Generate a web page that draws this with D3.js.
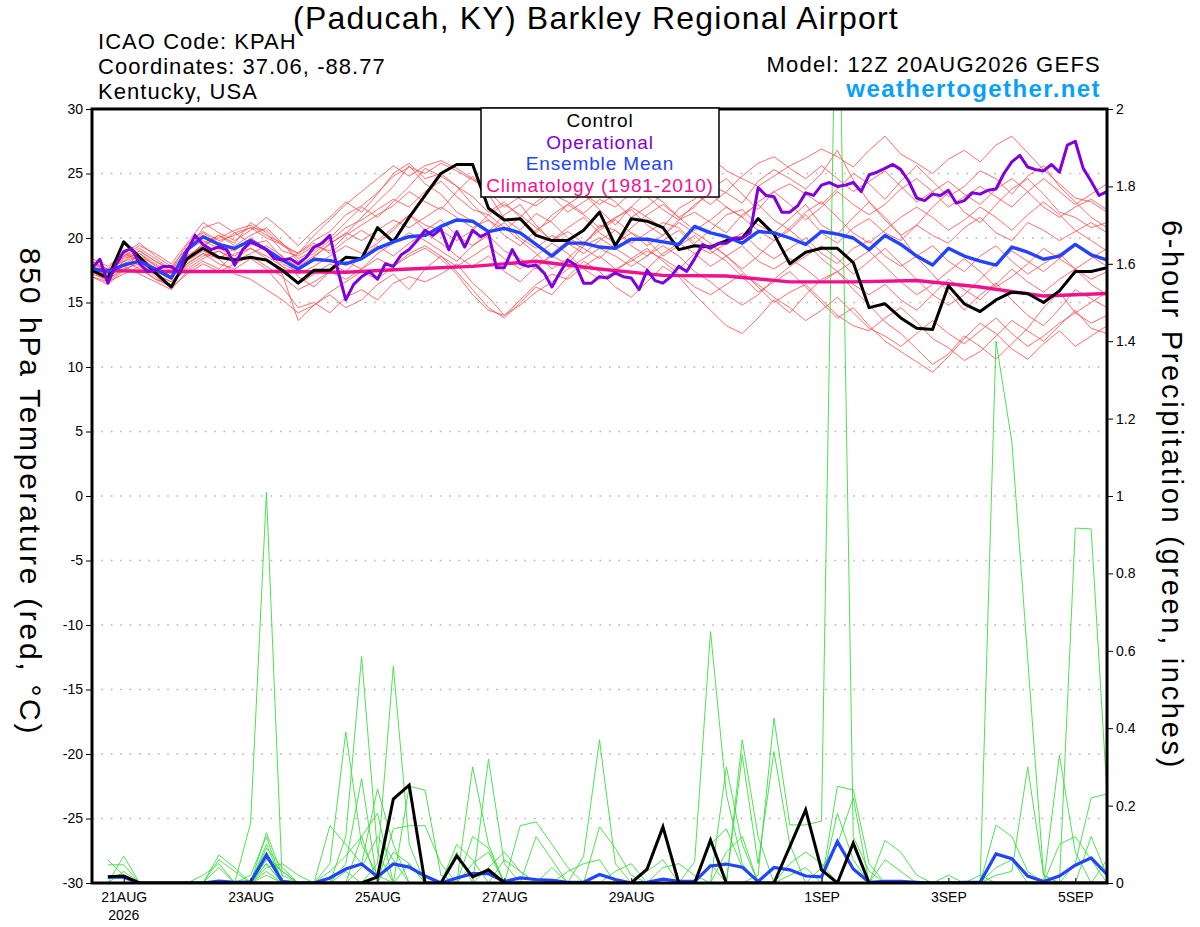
<!DOCTYPE html>
<html>
<head>
<meta charset="utf-8">
<script src="https://cdn.jsdelivr.net/npm/d3@7"></script>
<style>
  body { margin: 0; background: #fff; }
  svg { font-family: "Liberation Sans", Arial, Helvetica, sans-serif; }
</style>
</head>
<body>
<svg id="chart" width="1200" height="927"></svg>
<script>
/* DATA */
const runStart = Date.UTC(2026, 7, 20, 12);   // 12Z 20AUG2026
const runEnd = Date.UTC(2026, 8, 5, 12);
const HOUR = 3600 * 1000;

const xTickDays = [Date.UTC(2026,7,21), Date.UTC(2026,7,23), Date.UTC(2026,7,25), Date.UTC(2026,7,27),
                   Date.UTC(2026,7,29), Date.UTC(2026,8,1), Date.UTC(2026,8,3), Date.UTC(2026,8,5)];
const xTickLabels = ["21AUG", "23AUG", "25AUG", "27AUG", "29AUG", "1SEP", "3SEP", "5SEP"];
const tempTicks = [-30, -25, -20, -15, -10, -5, 0, 5, 10, 15, 20, 25, 30];
const precipTicks = [0, 0.2, 0.4, 0.6, 0.8, 1, 1.2, 1.4, 1.6, 1.8, 2];
const precipTickLabels = ["0", "0.2", "0.4", "0.6", "0.8", "1", "1.2", "1.4", "1.6", "1.8", "2"];

// 6-hourly 850 hPa temperature, control run
const tempControl = [17.5,16.9,19.7,18.5,17.3,16.2,18.4,19.2,18.5,18.3,18.5,18.3,17.5,
  16.5,17.5,17.5,18.5,18.4,20.8,19.7,21.6,23.3,25.0,25.7,25.7,22.3,
  21.4,21.5,20.2,19.8,19.8,20.6,22.0,19.4,21.5,21.3,20.8,19.1,19.4,
  19.3,19.8,20.0,21.5,20.3,18.0,18.9,19.2,19.2,18.1,14.6,14.9,13.8,
  13.0,12.9,16.3,14.9,14.3,15.2,15.8,15.7,15.0,15.9,17.4,17.4,17.7];

// 6-hourly ensemble mean
const tempMean = [17.65,17.4,17.9,18.2,17.6,16.9,19.1,20.1,19.5,19.2,19.8,19.1,18.3,
  17.6,18.35,18.25,18.0,18.4,19.2,19.7,20.1,20.2,20.9,21.4,21.3,20.5,
  20.75,20.4,19.5,18.6,19.6,19.6,19.3,19.2,19.9,19.9,19.7,19.5,20.9,
  20.4,20.1,19.6,20.5,20.4,20.0,19.5,20.5,20.3,20.0,19.1,20.2,19.5,
  18.6,17.9,19.2,18.6,18.2,17.9,19.3,18.9,18.35,18.6,19.5,18.7,18.3];

// 3-hourly operational run
const tempOper = [17.65,18.35,16.5,17.9,18.95,19.2,18.0,17.4,17.5,17.8,17.8,17.3,19.0,20.2,19.5,19.1,
  19.3,19.1,17.9,19.1,19.7,19.4,19.1,18.4,18.3,18.4,18.0,18.5,19.3,19.6,20.2,17.5,
  15.2,16.4,17.0,17.4,16.8,18.0,17.8,18.7,19.1,19.8,20.6,20.2,20.7,19.1,20.5,19.3,
  20.6,20.1,20.4,17.7,17.7,19.1,18.0,17.8,17.9,17.3,16.2,17.3,18.3,17.9,16.5,16.5,
  17.0,16.9,17.3,17.0,16.9,16.0,17.5,16.7,16.5,17.0,17.8,17.4,18.4,19.5,19.2,19.6,
  19.6,20.0,20.0,20.4,23.9,23.3,23.2,22.0,22.0,22.5,23.5,23.3,24.1,24.3,24.0,24.1,
  24.3,23.6,24.9,25.1,25.4,25.7,25.3,24.4,23.1,22.9,23.4,23.3,23.7,22.7,22.9,23.5,
  23.4,23.7,23.8,25.0,25.9,26.4,25.5,25.3,25.2,25.7,25.1,27.2,27.5,25.4,24.4,23.3,
  23.6];

// daily climatology (1981-2010), 12Z each day
const tempClim = [17.5,17.4,17.4,17.4,17.35,17.6,17.8,18.2,17.6,17.1,17.05,16.6,16.6,16.7,16.2,15.5,15.7];

// 6-hourly ensemble members
const tempMembers = [
  [17.8,17.2,18.5,19.0,18.2,17.6,19.5,20.5,19.8,20.2,20.8,20.0,19.5,18.8,19.8,20.5,21.8,22.5,23.5,24.8,25.5,25.0,
   25.8,25.2,24.5,23.8,24.2,23.0,22.5,23.4,22.8,21.9,23.0,22.4,23.5,24.8,24.0,24.6,25.4,26.3,25.2,24.6,24.0,24.8,
   25.6,26.2,26.9,26.3,25.5,26.8,27.9,26.5,25.8,25.0,26.1,26.8,25.9,27.2,27.9,26.6,25.3,24.2,23.1,22.8,22.0],
  [17.5,16.8,18.0,18.6,17.9,17.0,18.8,20.8,21.2,20.4,19.6,19.2,18.0,17.4,18.5,19.6,20.3,21.6,22.8,24.0,25.6,24.2,
   23.4,22.0,21.3,20.5,21.8,22.6,21.0,19.8,20.5,19.6,20.8,21.5,22.4,21.6,20.8,22.3,23.0,24.1,23.5,22.7,24.4,25.3,
   24.6,23.8,25.0,26.8,24.5,22.8,21.6,20.2,18.5,17.2,15.8,14.4,15.6,16.5,15.2,14.0,13.2,14.5,16.0,15.3,14.6],
  [18.2,17.6,19.0,18.2,17.4,16.8,18.4,19.6,20.2,19.6,21.2,20.4,19.0,18.6,19.4,19.0,20.2,21.0,21.8,22.5,23.6,22.8,
   22.2,23.6,24.8,23.4,21.5,20.6,21.9,21.2,20.0,19.4,21.0,20.6,19.6,20.4,21.2,20.8,19.6,20.6,21.8,22.2,21.0,20.4,
   21.5,22.6,21.0,20.3,21.6,22.8,21.4,20.2,21.0,22.4,23.5,22.0,21.2,22.6,23.8,24.6,23.4,22.0,21.6,20.8,21.2],
  [17.0,16.4,17.5,18.2,17.0,16.2,18.0,18.8,18.0,17.6,18.4,17.6,16.2,14.6,15.0,14.2,15.4,16.0,15.2,16.5,17.0,16.6,
   17.2,18.0,16.5,15.4,14.0,15.2,16.4,17.2,16.8,17.8,18.6,17.6,18.2,19.0,18.4,17.6,18.8,19.5,18.6,17.4,16.2,15.0,
   15.8,16.4,15.2,14.0,13.2,12.8,13.8,14.6,13.5,12.2,11.5,10.5,11.2,12.4,13.6,12.8,12.0,13.2,14.4,13.0,12.6],
  [17.6,17.0,17.8,17.2,16.6,16.0,17.4,18.2,17.6,18.8,19.2,18.4,17.2,13.6,14.8,15.6,14.6,15.2,16.4,17.2,16.0,17.6,
   18.6,17.4,16.0,14.6,13.8,15.0,16.2,15.6,17.0,18.2,17.4,16.2,15.4,16.6,17.8,17.0,15.6,14.4,13.2,12.6,13.8,15.2,
   14.2,15.6,16.8,17.4,16.0,14.8,13.5,12.6,11.4,10.2,11.0,12.4,11.6,10.6,11.8,13.0,14.6,15.8,14.2,13.4,14.0],
  [18.0,17.4,18.6,19.2,18.4,17.6,19.0,19.8,19.2,18.6,19.5,19.8,18.5,17.8,18.6,19.5,20.4,19.8,20.6,21.4,20.8,21.6,
   22.4,21.6,20.8,21.4,20.2,19.4,20.6,21.4,22.6,21.8,20.8,21.6,22.2,21.0,20.2,21.4,22.0,21.2,20.4,21.8,22.6,21.4,
   20.6,21.8,20.4,19.6,20.8,21.5,20.4,19.8,21.0,20.2,19.6,20.8,21.6,20.4,19.8,21.2,20.6,19.8,20.5,21.2,20.4],
  [17.4,16.6,17.6,18.8,18.0,17.2,18.6,19.4,20.0,20.6,21.0,20.2,19.6,18.4,19.0,20.0,21.2,22.4,21.6,22.8,24.0,25.4,
   24.8,24.0,23.2,22.0,22.8,21.6,20.4,21.8,22.6,23.4,22.2,21.0,22.4,23.6,22.8,21.6,22.4,23.8,24.6,23.4,22.2,23.6,
   24.2,23.4,22.6,23.8,25.0,24.2,23.0,24.4,25.6,24.4,23.2,24.0,25.2,24.6,23.4,24.8,25.6,24.0,22.8,21.6,20.8],
  [17.2,16.8,18.2,17.6,16.8,16.4,17.8,18.6,19.0,18.2,18.8,19.4,18.6,17.0,16.2,17.4,18.2,17.6,18.8,19.6,20.4,19.8,
   19.0,18.2,19.4,20.2,19.0,18.4,17.6,18.8,19.8,19.2,18.4,19.6,20.4,19.8,18.6,19.4,20.2,19.0,18.2,17.0,15.8,16.6,
   17.4,16.2,15.0,13.8,14.6,13.2,12.0,11.2,10.4,9.6,10.8,12.2,13.4,12.6,11.4,10.6,11.8,12.8,11.6,12.4,13.2],
  [18.4,17.8,18.8,19.6,18.6,17.8,19.2,20.4,19.6,19.0,20.0,19.2,18.2,18.8,19.6,18.8,19.8,20.6,19.8,20.8,21.8,20.6,
   21.4,20.2,19.4,20.4,21.2,20.0,19.2,20.2,19.6,18.8,19.8,20.6,19.4,18.6,19.8,20.6,19.4,18.8,19.6,20.4,19.2,18.4,
   19.2,20.0,18.8,18.0,19.2,19.8,18.6,17.8,18.6,19.4,18.2,17.4,18.6,19.4,18.2,17.2,18.0,18.8,17.6,16.8,17.4],
  [17.8,17.0,18.2,19.0,18.2,17.4,19.2,20.2,19.6,20.4,20.8,20.6,19.4,18.8,20.2,21.4,22.6,23.6,24.6,25.6,24.8,25.6,
   26.0,25.4,24.6,23.6,22.4,23.2,24.0,23.2,22.0,22.8,23.6,22.8,21.6,22.4,23.4,24.2,23.4,22.6,23.6,24.8,25.8,26.3,
   25.4,24.6,25.6,24.6,23.6,24.4,25.2,24.0,22.8,23.6,24.4,23.4,22.6,23.8,24.6,23.6,22.4,21.6,22.4,23.0,22.2],
  [17.4,16.8,17.6,18.0,17.2,16.6,18.0,18.8,18.4,19.2,19.8,19.0,17.8,16.4,17.2,18.0,17.4,18.6,19.4,18.6,19.6,20.4,
   19.6,18.6,17.8,18.6,17.4,16.6,17.8,18.6,18.0,19.4,20.0,19.2,18.4,17.6,18.8,19.6,18.8,17.8,18.6,19.4,18.2,17.6,
   18.4,17.6,16.6,17.4,16.4,15.6,16.4,15.2,14.4,15.6,16.8,16.0,15.2,16.4,17.6,16.6,15.8,16.8,17.6,16.4,15.6],
  [17.6,17.2,18.4,18.8,17.8,17.0,18.2,19.0,18.4,17.2,16.8,16.0,15.2,14.2,14.8,15.8,16.6,17.4,16.8,17.8,18.6,19.2,
   18.4,17.2,15.6,14.4,14.0,14.8,15.8,16.6,17.6,18.4,19.2,18.6,17.8,18.6,19.4,18.6,17.4,16.6,15.6,14.8,15.6,16.8,
   17.8,18.6,19.4,18.4,17.2,18.2,19.2,18.0,16.8,15.6,14.8,15.6,16.8,18.0,19.0,18.2,17.4,18.4,19.4,18.6,17.8],
  [18.0,17.6,18.2,18.6,17.6,16.8,18.6,19.4,20.2,19.4,20.2,20.8,19.6,18.2,18.8,19.8,20.8,21.4,22.2,23.0,22.4,23.6,
   24.4,23.2,22.2,21.8,22.6,21.8,20.8,19.8,20.8,21.6,20.4,19.6,20.8,21.8,22.6,21.6,20.6,21.4,22.4,21.6,20.6,19.8,
   20.8,22.0,22.8,21.6,20.4,19.6,20.6,21.6,22.4,21.6,20.6,21.4,22.4,21.6,20.6,21.8,22.8,21.8,20.6,19.8,19.0],
  [17.6,17.0,18.8,18.2,17.2,16.6,17.6,18.4,19.0,18.4,19.2,18.6,17.8,17.2,17.8,18.6,19.4,18.8,19.6,20.6,21.8,21.0,
   20.6,19.8,20.6,21.8,20.8,19.8,18.8,17.6,18.4,19.6,20.6,21.4,20.4,19.4,20.2,21.2,20.4,19.6,18.6,17.6,18.6,19.8,
   20.6,19.6,18.4,17.4,18.2,19.0,17.8,16.6,15.6,16.4,17.4,18.4,17.4,16.2,17.0,18.0,19.2,18.4,17.6,18.4,19.2],
  [18.2,17.4,18.6,19.4,18.8,18.0,19.6,21.2,20.4,19.8,20.6,21.6,20.6,19.4,20.6,21.6,22.8,22.0,23.4,25.0,25.8,24.6,
   25.0,24.0,22.6,21.4,20.6,21.6,22.8,23.6,24.4,23.4,22.6,23.4,24.2,23.2,22.2,21.4,22.6,23.4,22.4,21.6,22.8,23.6,
   22.6,21.4,22.4,23.6,22.6,21.8,22.6,23.8,24.6,23.6,22.4,23.2,24.0,23.2,22.4,23.6,24.6,23.6,22.6,23.4,24.2],
  [17.0,16.6,17.2,17.8,16.8,16.2,17.2,18.0,17.4,18.0,18.6,17.8,17.0,16.0,16.6,17.4,16.8,17.6,18.4,17.8,18.8,19.4,
   18.6,17.8,18.6,19.4,18.4,17.6,18.6,19.6,18.8,17.6,16.8,17.4,18.4,19.2,18.2,17.2,16.2,15.6,16.4,17.2,16.4,15.4,
   14.6,13.6,14.4,15.4,14.2,13.0,12.4,11.6,12.6,13.6,12.6,11.8,12.8,13.8,12.6,11.6,12.4,13.4,14.2,15.0,15.8]
];

// 6-hour precipitation (inches), valid 18Z 20AUG onward
const precipControl = [0.016,0.018,0,0,0,0,0,0,0,0,0,0,0,0,0,0,
  0,0.016,0.217,0.253,0,0,0.07,0.016,0.034,0,0,0,0,0,0,0,
  0,0,0.036,0.145,0,0,0.111,0,0,0,0,0.094,0.189,0.034,0,0.103,
  0,0,0,0,0,0,0,0,0,0,0,0,0,0,0,0];
const precipMean = [0.015,0.015,0,0,0,0,0,0.005,0.002,0.003,0.072,0.004,0,0,0.013,0.036,
  0.049,0.016,0.049,0.041,0.018,0,0.013,0.024,0.024,0.004,0.013,0.009,0.007,0.002,0.002,0.022,
  0.009,0,0.002,0.01,0.004,0.004,0.044,0.049,0.041,0.004,0.04,0.034,0.018,0.016,0.107,0.036,
  0.002,0.004,0.004,0.002,0,0,0.002,0.002,0.075,0.063,0.018,0.004,0.018,0.046,0.065,0.022];
const precipMembers = [
  [0.047,0.047,0,0,0,0,0,0,0,0.155,1.01,0,0,0,0,0, 0,0,0,0,0,0,0,0.05,0.08,0,0,0,0,0,0,0,
   0,0,0,0,0,0,0.05,0,0,0,0,0,0,0,0,0, 0,0,0,0,0,0,0,0,0.15,0.12,0.03,0,0,0,0,0],
  [0.06,0.02,0,0,0,0,0,0.072,0.04,0,0.10,0,0,0,0.05,0.39, 0.10,0.02,0,0,0,0,0,0,0,0,0,0,0,0,0,0,
   0,0,0,0,0,0,0,0.30,0.10,0,0,0,0,0,0.25,0.24, 0.05,0,0,0,0,0,0,0,0,0,0,0,0,0,0,0],
  [0,0.07,0,0,0,0,0,0,0,0,0.13,0.02,0,0,0,0.12, 0.585,0.08,0,0,0,0,0,0,0,0,0,0,0,0,0,0.145,
   0.09,0.02,0,0,0,0,0,0,0,0,0,0.05,0.08,0.05,0,0, 0,0,0,0,0,0,0,0,0,0,0,0,0,0,0,0],
  [0,0,0,0,0,0,0,0.06,0.03,0,0.08,0,0,0,0.148,0.10, 0.05,0.243,0.10,0,0,0,0,0,0,0,0.148,0.158,0.10,0.04,0,0,
   0,0,0,0,0,0,0,0,0,0,0,0,0,0,0,0, 0,0,0,0,0,0,0,0,0,0,0,0,0,0.05,0.22,0.23],
  [0,0,0,0,0,0,0.02,0.05,0,0,0.06,0.03,0,0,0,0, 0,0.05,0.56,0.10,0,0,0,0.30,0.10,0,0,0,0,0,0,0,
   0,0,0,0.04,0.05,0.02,0,0,0,0,0,0,0,0,0,0, 0,0,0,0,0,0,0,0,0,0,0,0,0,0,0,0],
  [0,0,0,0,0,0,0,0,0,0,0.05,0,0,0,0,0.05, 0.27,0,0,0.25,0.24,0.02,0,0,0.32,0.05,0,0,0,0,0,0,
   0,0,0,0,0,0,0,0,0.37,0.12,0,0,0,0,0,0, 0,0.11,0.08,0.02,0,0,0,0,0,0,0,0,0,0,0,0],
  [0,0,0,0,0,0,0,0,0,0,0.04,0.05,0.02,0,0,0, 0,0,0.14,0.148,0.148,0.05,0,0,0,0,0,0,0.04,0,0.07,0.37,
   0.05,0,0,0,0,0,0,0,0,0,0,0,0,0,0,0, 0,0,0,0,0,0,0,0,0.02,0.03,0.30,0.02,0,0,0,0],
  [0,0.03,0,0,0,0,0,0,0,0,0.03,0,0,0,0,0, 0.12,0.18,0,0,0,0,0,0,0,0.06,0.03,0,0,0,0,0,
   0,0,0,0,0,0.055,0.65,0.23,0.05,0,0,0,0,0,0,0, 0,0,0,0,0,0,0,0,0,0,0,0,0.10,0.12,0.06,0],
  [0,0,0,0,0,0,0,0,0,0,0.02,0,0,0,0,0, 0,0,0,0.05,0,0,0,0.12,0.09,0,0,0.12,0.06,0,0,0,
   0,0,0,0,0,0,0,0,0.33,0.05,0.34,0.10,0,0,0,0, 0,0,0,0,0,0,0,0.02,0,0,0,0,0,0,0,0],
  [0,0,0,0,0,0,0,0,0,0,0.07,0.03,0,0,0,0, 0,0,0,0,0,0,0.10,0.06,0,0,0,0,0,0,0,0,
   0,0,0.03,0.06,0,0,0,0,0,0.02,0.426,0.15,0.15,0.16,2.6,0.12, 0.03,0,0,0,0,0,0,0,0,0,0,0,0,0,0,0],
  [0,0,0,0,0,0,0,0,0,0,0,0,0,0,0.03,0.07, 0.12,0,0,0,0,0,0.08,0,0,0,0,0,0,0,0,0,
   0,0,0,0,0,0,0,0.08,0.12,0,0,0,0,0.04,0.10,0.22, 0,0,0,0,0,0.02,0,0,1.40,1.14,0.58,0.02,0,0,0,0],
  [0,0,0,0,0,0,0,0,0,0,0.09,0.04,0,0,0,0, 0,0,0.08,0.05,0,0,0,0,0,0,0,0,0,0,0,0,
   0.03,0.05,0,0,0,0,0.10,0.14,0.04,0,0,0,0,0,0,0, 0,0.06,0.03,0,0,0,0,0,0,0,0,0,0.33,0.08,0,0.06],
  [0,0,0,0,0,0,0,0.04,0,0,0.05,0,0,0,0,0.03, 0,0,0,0,0,0,0,0,0.04,0.08,0.03,0,0,0,0,0,
   0,0,0,0,0,0,0,0,0,0,0,0,0,0,0.18,0.06, 0,0,0,0,0,0,0,0,0,0,0,0,0,0.917,0.915,0.23],
  [0,0,0,0,0,0,0,0,0,0.02,0.12,0,0,0,0,0, 0.04,0.12,0.06,0,0,0,0,0,0,0,0,0,0,0.03,0.05,0.06,
   0,0,0,0,0,0,0,0,0,0,0,0.02,0.04,0,0,0, 0,0,0,0,0,0,0,0,0.04,0.06,0,0,0,0,0.12,0.02]
];

/* LAYOUT */
const plot = { left: 92, right: 1107, top: 109, bottom: 883 };
const svg = d3.select('#chart');

const x = d3.scaleUtc().domain([runStart, runEnd]).range([plot.left, plot.right]);
const yT = d3.scaleLinear().domain([-30, 30]).range([plot.bottom, plot.top]);
const yP = d3.scaleLinear().domain([0, 2]).range([plot.bottom, plot.top]);

const at6 = i => new Date(runStart + i * 6 * HOUR);
const at3 = i => new Date(runStart + i * 3 * HOUR);
const at24 = i => new Date(runStart + i * 24 * HOUR);
const atP = i => new Date(runStart + (i + 1) * 6 * HOUR);

svg.append('defs').append('clipPath').attr('id', 'plotclip')
  .append('rect')
  .attr('x', plot.left).attr('y', plot.top)
  .attr('width', plot.right - plot.left).attr('height', plot.bottom - plot.top);

/* GRID */
svg.append('g').selectAll('line')
  .data(tempTicks.filter(d => d > -30 && d < 30))
  .join('line')
  .attr('x1', plot.left).attr('x2', plot.right)
  .attr('y1', d => yT(d)).attr('y2', d => yT(d))
  .attr('stroke', '#b4b4b4').attr('stroke-width', 1.6)
  .attr('stroke-dasharray', '1.6,7.8');

/* LINES */
const lines = svg.append('g').attr('clip-path', 'url(#plotclip)');
const lineT = fn => d3.line().x((d, i) => x(fn(i))).y(d => yT(d));
const lineP = d3.line().x((d, i) => x(atP(i))).y(d => yP(d));

lines.selectAll('.member-t').data(tempMembers).join('path')
  .attr('class', 'member-t')
  .attr('d', lineT(at6))
  .attr('fill', 'none').attr('stroke', '#ff4848').attr('stroke-width', 0.8);

lines.selectAll('.member-p').data(precipMembers).join('path')
  .attr('class', 'member-p')
  .attr('d', lineP)
  .attr('fill', 'none').attr('stroke', '#3cdc3c').attr('stroke-width', 0.9);

lines.append('path').datum(tempClim).attr('d', lineT(at24))
  .attr('fill', 'none').attr('stroke', '#f0128c').attr('stroke-width', 3.4);

lines.append('path').datum(precipMean).attr('d', lineP)
  .attr('fill', 'none').attr('stroke', '#2244ff').attr('stroke-width', 3.2);
lines.append('path').datum(precipControl).attr('d', lineP)
  .attr('fill', 'none').attr('stroke', '#000').attr('stroke-width', 3);

lines.append('path').datum(tempControl).attr('d', lineT(at6))
  .attr('fill', 'none').attr('stroke', '#000').attr('stroke-width', 3).attr('stroke-linejoin', 'round');
lines.append('path').datum(tempMean).attr('d', lineT(at6))
  .attr('fill', 'none').attr('stroke', '#2244ff').attr('stroke-width', 3.4).attr('stroke-linejoin', 'round');
lines.append('path').datum(tempOper).attr('d', lineT(at3))
  .attr('fill', 'none').attr('stroke', '#7f00dd').attr('stroke-width', 3).attr('stroke-linejoin', 'round');

/* FRAME + AXES */
svg.append('rect')
  .attr('x', plot.left).attr('y', plot.top)
  .attr('width', plot.right - plot.left).attr('height', plot.bottom - plot.top)
  .attr('fill', 'none').attr('stroke', '#000').attr('stroke-width', 3);

function styleAxis(g) {
  g.select('.domain').remove();
  g.attr('font-family', null).attr('font-size', null);
  g.selectAll('text').attr('font-size', 14).attr('fill', '#000');
  g.selectAll('line').attr('stroke', '#000');
}

svg.append('g').attr('transform', `translate(${plot.left - 1},0)`)
  .call(d3.axisLeft(yT).tickValues(tempTicks).tickSize(5).tickPadding(3).tickFormat(d => String(d)))
  .call(styleAxis);

svg.append('g').attr('transform', `translate(${plot.right + 1},0)`)
  .call(d3.axisRight(yP).tickValues(precipTicks).tickSize(5).tickPadding(3)
    .tickFormat((d, i) => precipTickLabels[i]))
  .call(styleAxis);

svg.append('g').attr('transform', `translate(0,${plot.bottom})`)
  .call(d3.axisBottom(x).tickValues(xTickDays.map(d => new Date(d))).tickSize(-5).tickPadding(9)
    .tickFormat((d, i) => xTickLabels[i]))
  .call(styleAxis);

svg.append('text').attr('x', x(new Date(xTickDays[0]))).attr('y', 920)
  .attr('text-anchor', 'middle').attr('font-size', 14).text('2026');

/* TITLES */
svg.append('text').attr('x', 596).attr('y', 29).attr('text-anchor', 'middle')
  .attr('font-size', 32).attr('letter-spacing', 1.2)
  .text('(Paducah, KY) Barkley Regional Airport');

const info = ['ICAO Code: KPAH', 'Coordinates: 37.06, -88.77', 'Kentucky, USA'];
svg.append('g').selectAll('text').data(info).join('text')
  .attr('x', 98).attr('y', (d, i) => 49 + i * 25)
  .attr('font-size', 22).attr('letter-spacing', 1.05).text(d => d);

svg.append('text').attr('x', 1101).attr('y', 72).attr('text-anchor', 'end')
  .attr('font-size', 22).attr('letter-spacing', 1.25).text('Model: 12Z 20AUG2026 GEFS');
svg.append('text').attr('x', 1101).attr('y', 97).attr('text-anchor', 'end')
  .attr('font-size', 24).attr('font-weight', 'bold').attr('letter-spacing', 1.4).attr('fill', '#0aa0f5')
  .text('weathertogether.net');

svg.append('text').attr('transform', 'translate(20,492) rotate(90)')
  .attr('text-anchor', 'middle').attr('font-size', 30).attr('letter-spacing', 2.7)
  .text('850 hPa Temperature (red, °C)');
svg.append('text').attr('transform', 'translate(1162,495) rotate(90)')
  .attr('text-anchor', 'middle').attr('font-size', 29).attr('letter-spacing', 2.7)
  .text('6-hour Precipitation (green, inches)');

/* LEGEND */
const legendItems = [
  { label: 'Control', color: '#000' },
  { label: 'Operational', color: '#7f00dd' },
  { label: 'Ensemble Mean', color: '#2244ff' },
  { label: 'Climatology (1981-2010)', color: '#f0128c' }
];
const legend = svg.append('g');
legend.append('rect').attr('x', 481).attr('y', 108).attr('width', 238).attr('height', 89)
  .attr('fill', '#fff').attr('stroke', '#000').attr('stroke-width', 1.5);
legend.selectAll('text').data(legendItems).join('text')
  .attr('x', 600).attr('y', (d, i) => 127 + i * 21.5)
  .attr('text-anchor', 'middle').attr('font-size', 19).attr('letter-spacing', 0.85)
  .attr('fill', d => d.color).text(d => d.label);
</script>
</body>
</html>
